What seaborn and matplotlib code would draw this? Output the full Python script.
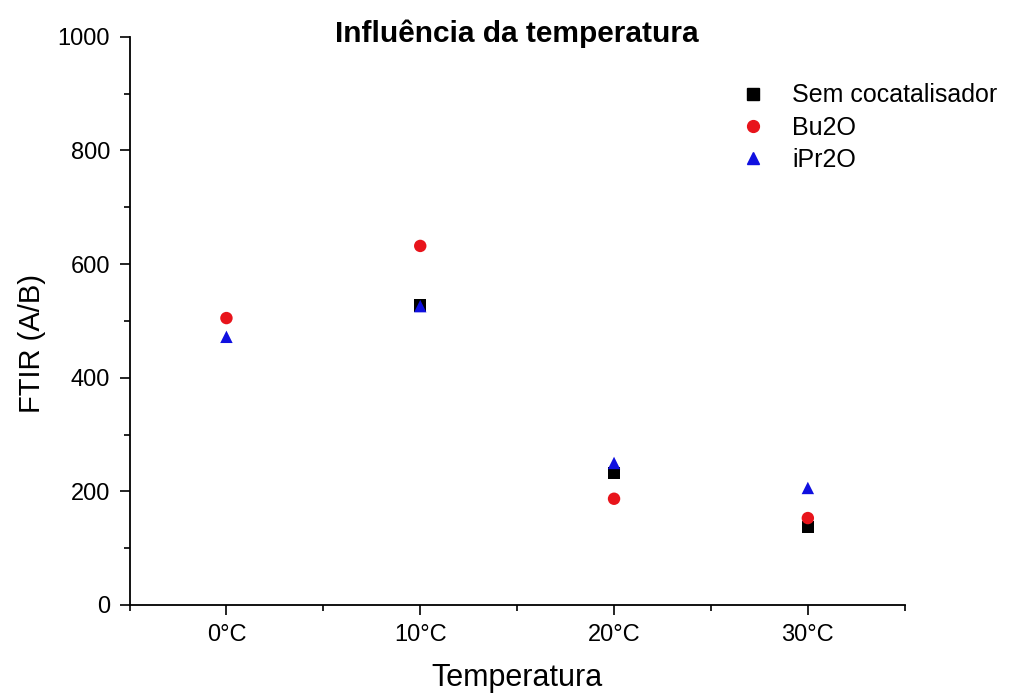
import numpy as np
import pandas as pd
import matplotlib
matplotlib.use('Agg')
import matplotlib.pyplot as plt
import seaborn as sns
from matplotlib.lines import Line2D
from matplotlib.ticker import MultipleLocator

temperaturas = ["0°C", "10°C", "20°C", "30°C"]
sem_cocatalisador = [np.nan, 527, 232, 137]
bu2o = [505, 632, 187, 153]
ipr2o = [472, 526, 250, 206]
series = ["Sem cocatalisador", "Bu2O", "iPr2O"]
cores = ["black", "#e8141b", "#1010e0"]
marcadores = ["s", "o", "^"]

df = pd.DataFrame({
    "Temperatura": temperaturas * 3,
    "pos": list(range(len(temperaturas))) * 3,
    "FTIR": sem_cocatalisador + bu2o + ipr2o,
    "Serie": [s for s in series for _ in temperaturas],
}).dropna()

sns.set_style("ticks")
plt.rcParams['font.family'] = ['Liberation Sans', 'DejaVu Sans']
plt.rcParams['text.color'] = 'black'
plt.rcParams['axes.labelcolor'] = 'black'
plt.rcParams['xtick.color'] = 'black'
plt.rcParams['ytick.color'] = 'black'
plt.rcParams['axes.edgecolor'] = 'black'

fig = plt.figure(figsize=(10.2, 6.95), dpi=100)
ax = fig.add_axes([0.127, 0.1295, 0.76, 0.8175])

sns.scatterplot(data=df, x="pos", y="FTIR", hue="Serie", style="Serie",
                hue_order=series, style_order=series, palette=cores,
                markers=marcadores, s=80, edgecolor="none", ax=ax, legend=False)

ax.set_xlim(-0.5, 3.5)
ax.set_ylim(0, 1000)
ax.set_xticks(range(len(temperaturas)))
ax.set_xticklabels(temperaturas)
ax.xaxis.set_minor_locator(MultipleLocator(0.5))
ax.yaxis.set_minor_locator(MultipleLocator(100))
ax.tick_params(which="major", length=7, width=1.2, labelsize=17, direction="out", pad=7)
ax.tick_params(which="minor", length=4, width=1.2, direction="out")
for sp in ["left", "bottom"]:
    ax.spines[sp].set_linewidth(1.3)
sns.despine(ax=ax)

ax.set_xlabel("Temperatura", fontsize=22, labelpad=12)
ax.set_ylabel("FTIR (A/B)", fontsize=21)
ax.yaxis.set_label_coords(-0.108, 0.461)
# titulo um pouco abaixo do topo do eixo, como no original
ax.set_title("Influência da temperatura", fontsize=21.5, fontweight="bold", y=1.0, pad=-4)

handles = [Line2D([], [], linestyle="none", marker=m, color=c, markersize=8.5)
           for m, c in zip(marcadores, cores)]
ax.legend(handles, series, loc="upper left", bbox_to_anchor=(0.7235, 0.88), bbox_transform=fig.transFigure,
          frameon=False, fontsize=18, handlelength=1.2, handletextpad=0.96, labelspacing=0.33,
          borderpad=0, borderaxespad=0)

fig.savefig("out.png", dpi=100)
